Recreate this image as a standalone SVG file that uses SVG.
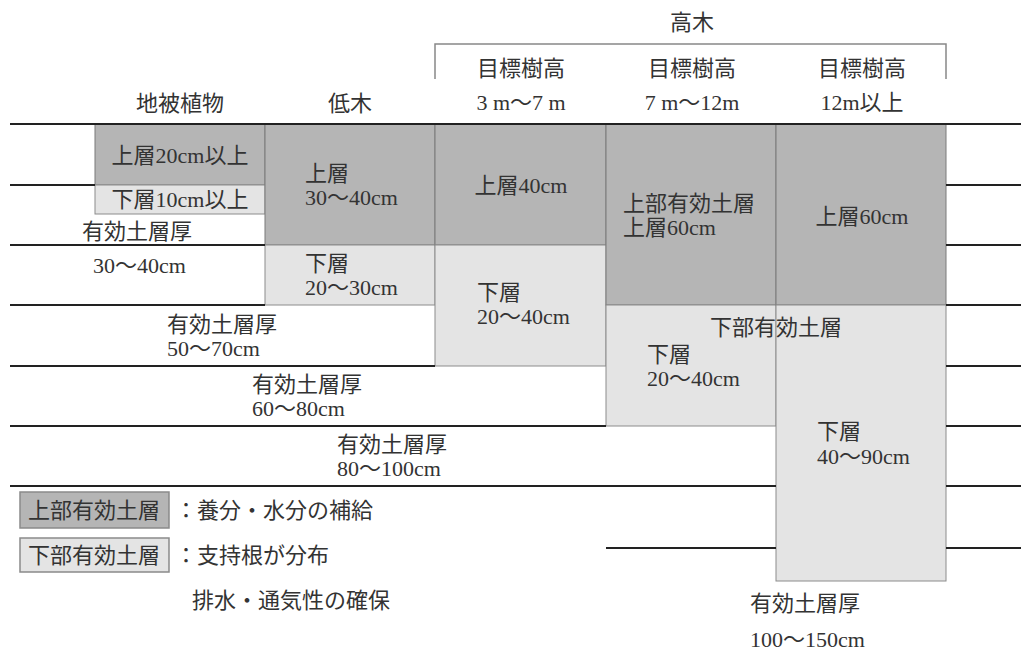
<svg xmlns="http://www.w3.org/2000/svg" width="1021" height="653" viewBox="0 0 1021 653">
<style>
text{font-family:"Liberation Serif","Noto Sans CJK JP",serif;font-size:22px;fill:#333}
.m{text-anchor:middle}
.up{fill:#b5b5b5;stroke:#7a7a7a;stroke-width:1}
.lo{fill:#e4e4e4;stroke:#8c8c8c;stroke-width:1}
.ln{stroke:#222;stroke-width:2.2;fill:none}
.br{stroke:#888;stroke-width:1.5;fill:none}
.lg1{fill:#b5b5b5;stroke:#8a8a8a;stroke-width:1.5}
.lg2{fill:#e4e4e4;stroke:#8a8a8a;stroke-width:1.5}
</style>
<rect width="1021" height="653" fill="#fff"/>
<g id="header">
<text class="m" x="692" y="30">高木</text>
<path class="br" d="M435,79 V44 H946 V79"/>
<text class="m" x="180" y="111">地被植物</text>
<text class="m" x="350" y="111">低木</text>
<text class="m" x="521" y="76">目標樹高</text>
<text class="m" x="521" y="110">3 m〜7 m</text>
<text class="m" x="692" y="76">目標樹高</text>
<text class="m" x="692" y="110">7 m〜12m</text>
<text class="m" x="862" y="76">目標樹高</text>
<text class="m" x="862" y="110">12m以上</text>
</g>
<g id="ground-cover">
<rect class="up" x="95" y="124" width="170" height="61"/>
<rect class="lo" x="95" y="185" width="170" height="29"/>
<text class="m" x="180" y="163">上層20cm以上</text>
<text class="m" x="180" y="207">下層10cm以上</text>
<text x="82" y="239">有効土層厚</text>
<text x="93" y="273">30〜40cm</text>
</g>
<g id="shrub">
<rect class="up" x="265" y="124" width="170" height="121"/>
<rect class="lo" x="265" y="245" width="170" height="60"/>
<text x="305" y="181">上層</text>
<text x="305" y="205">30〜40cm</text>
<text x="305" y="271">下層</text>
<text x="305" y="295">20〜30cm</text>
<text x="167" y="332">有効土層厚</text>
<text x="167" y="356">50〜70cm</text>
</g>
<g id="tree-3-7">
<rect class="up" x="435" y="124" width="171" height="121"/>
<rect class="lo" x="435" y="245" width="171" height="121"/>
<text class="m" x="521" y="193">上層40cm</text>
<text x="477" y="300">下層</text>
<text x="477" y="324">20〜40cm</text>
<text x="252" y="392">有効土層厚</text>
<text x="252" y="416">60〜80cm</text>
</g>
<g id="tree-7-12">
<rect class="up" x="606" y="124" width="170" height="181"/>
<rect class="lo" x="606" y="305" width="170" height="121"/>
<text x="623" y="211">上部有効土層</text>
<text x="623" y="235">上層60cm</text>
<text x="647" y="362">下層</text>
<text x="647" y="386">20〜40cm</text>
<text x="337" y="452">有効土層厚</text>
<text x="337" y="476">80〜100cm</text>
</g>
<g id="tree-12">
<rect class="up" x="776" y="124" width="170" height="181"/>
<rect class="lo" x="776" y="305" width="170" height="276"/>
<text class="m" x="862" y="224">上層60cm</text>
<text x="817" y="439">下層</text>
<text x="817" y="464">40〜90cm</text>
<text x="750" y="611">有効土層厚</text>
<text x="750" y="647">100〜150cm</text>
</g>
<text x="710" y="335">下部有効土層</text>
<g id="connectors">
<path class="ln" d="M10,124 H1021"/>
<path class="ln" d="M10,185 H95 M10,245 H265 M10,305 H265 M10,366 H435 M10,426 H606 M10,486 H776 M606,548 H776"/>
<path class="ln" d="M946,185 H1021 M946,245 H1021 M946,305 H1021 M946,366 H1021 M946,426 H1021 M946,486 H1021 M946,548 H1021"/>
</g>
<g id="legend">
<rect class="lg1" x="20" y="492" width="149" height="36"/>
<text x="28" y="518">上部有効土層</text>
<text x="175" y="518">：養分・水分の補給</text>
<rect class="lg2" x="20" y="538" width="149" height="34"/>
<text x="28" y="563">下部有効土層</text>
<text x="175" y="563">：支持根が分布</text>
<text x="192" y="608">排水・通気性の確保</text>
</g>
</svg>
